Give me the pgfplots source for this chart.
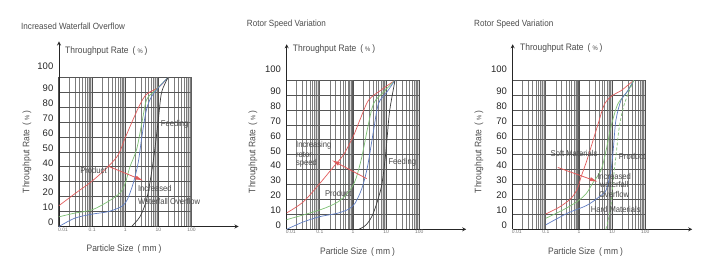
\documentclass[border=0pt]{standalone}
\usepackage{fontspec}
\setmainfont{Liberation Sans}[FakeStretch=0.9]
\newfontfamily\ticfont{Liberation Sans}
\usepackage{pgfplots}
\pgfplotsset{compat=1.18}
\usetikzlibrary{arrows.meta}
\definecolor{cred}{RGB}{225,90,90}
\definecolor{cgreen}{RGB}{125,192,115}
\definecolor{cblue}{RGB}{95,125,195}
\definecolor{cblack}{RGB}{60,60,60}
\definecolor{txt}{RGB}{75,75,75}
\definecolor{gridmaj}{RGB}{80,80,80}
\definecolor{gridmin}{RGB}{125,125,125}
\definecolor{gridy}{RGB}{85,85,85}
\newcommand{\lab}{\fontsize{9bp}{10bp}\selectfont}
\newcommand{\labb}{\fontsize{9.4bp}{10bp}\selectfont}
\newcommand{\ann}{\fontsize{8.5bp}{9.3bp}\selectfont}
\newcommand{\tlf}{\ticfont\fontsize{9.5bp}{11bp}\selectfont}
\newcommand{\xlf}{\ticfont\fontsize{5bp}{6bp}\selectfont}
\newcommand{\thr}{Throughput Rate\hspace{4bp}(\hspace{2bp}{\fontsize{6.5bp}{7bp}\selectfont\%}\hspace{2bp})}
\newcommand{\psz}{Particle Size\hspace{4bp}(\hspace{2bp}mm\hspace{2bp})}
\tikzset{myband/.style={draw=none, fill=gray, fill opacity=0.3}}
\pgfplotsset{
  x axis line style={-{Triangle[length=12bp,width=5bp]}, shorten >=-47bp, line width=0.8bp, black!85},
  y axis line style={-{Triangle[length=11bp,width=5bp]}, shorten >=-36bp, line width=0.8bp, black!85},
  major x grid style={line width=1.1bp, gridmaj},
  minor x grid style={line width=0.5bp, gridmin},
  major y grid style={line width=0.8bp, gridy},
  xticklabel style={font=\xlf, text=black!55, anchor=north, inner sep=1bp},
  yticklabel style={font=\tlf, text=black!85, anchor=east, inner sep=0pt, xshift=-5.5bp, yshift=4bp},
}
\newcommand{\bands}{%
 \addplot[myband, forget plot] coordinates {(0.072,100) (0.1,100)} \closedcycle;
 \addplot[myband, forget plot] coordinates {(0.72,100) (1,100)} \closedcycle;
 \addplot[myband, forget plot] coordinates {(7.2,100) (10,100)} \closedcycle;
 \addplot[myband, forget plot] coordinates {(72,100) (100,100)} \closedcycle;
 \node[anchor=east, inner sep=0pt, font=\tlf, text=black!85, xshift=-5.5bp, yshift=11.5bp] at (rel axis cs:0,1) {100};
}
\begin{document}
\begin{tikzpicture}
\useasboundingbox (0bp,0bp) rectangle (721bp,278bp);
% ---------- Panel 1
\begin{axis}[at={(59bp,51.5bp)}, anchor=south west,
  xmode=log, xmin=0.01, xmax=100, ymin=0, ymax=100,
  scale only axis, width=132.5bp, height=149bp, clip=false,
  axis lines=left,
  xtick={0.01,0.1,1,10,100}, xticklabels={\hspace*{8bp}0.01,0.1,1,10,100},
  minor xtick={0.02,0.03,0.04,0.05,0.06,0.07,0.08,0.09,0.2,0.3,0.4,0.5,0.6,0.7,0.8,0.9,2,3,4,5,6,7,8,9,20,30,40,50,60,70,80,90},
  ytick={0,10,20,30,40,50,60,70,80,90,100}, yticklabels={0,10,20,30,40,50,60,70,80,90,},
  major tick length=0pt, minor tick length=0pt,
  xmajorgrids, xminorgrids, ymajorgrids]
\bands
\addplot[cred, line width=0.7bp, smooth, tension=0.5] coordinates {(0.01,14) (0.03,22) (0.1,30.5) (0.31,40.4) (0.62,48.3) (1,59.6) (1.74,72) (2.8,82) (4.4,88.8) (10,93.3) (19.6,100)};
\addplot[cgreen, line width=0.7bp, smooth, tension=0.5] coordinates {(0.01,6.5) (0.03,9) (0.1,11.2) (0.31,16.9) (0.69,22.5) (1,29) (1.38,40) (2.2,51.7) (3.2,70) (4.4,85) (7.8,91) (19.6,100)};
\addplot[cblue, line width=0.7bp, smooth, tension=0.5] coordinates {(0.01,0) (0.03,5.6) (0.1,8.3) (0.31,10) (0.78,13.5) (1.15,18) (1.74,29) (2.45,42.7) (3.2,60.7) (4.4,78.7) (6.9,88.8) (19.6,100)};
\addplot[cblack, line width=0.7bp, smooth, tension=0.5] coordinates {(1.55,0) (2.8,6.7) (4.4,18) (6.2,36) (7.8,51.7) (10,72) (12.5,90) (19.6,100)};
\addplot[cred, line width=0.8bp, -{Latex[length=8bp,width=4bp]}] coordinates {(0.31,40.4) (3.5,30.8)};
\node[text=txt, font=\ann, inner sep=0pt] at (axis cs:31,68.5) {Feeding};
\node[text=txt, font=\ann, inner sep=0pt] at (axis cs:0.11,37.5) {Product};
\node[text=txt, font=\ann, inner sep=0pt, anchor=west] at (axis cs:2.4,25.2) {Increased};
\node[text=txt, font=\ann, inner sep=0pt, anchor=west] at (axis cs:2.4,16.6) {Waterfall Overflow};
\end{axis}
\node[anchor=west, text=txt, font=\lab, inner sep=0pt] at (21bp,252bp) {Increased Waterfall Overflow};
\node[anchor=west, text=txt, font=\labb, inner sep=0pt] at (65bp,227bp) {\thr};
\node[rotate=90, text=txt, font=\labb, inner sep=0pt] at (27bp,126bp) {\thr};
\node[text=txt, font=\labb, inner sep=0pt] at (124bp,29bp) {\psz};
% ---------- Panel 2
\begin{axis}[at={(286.7bp,48.7bp)}, anchor=south west,
  xmode=log, xmin=0.01, xmax=100, ymin=0, ymax=100,
  scale only axis, width=132.5bp, height=149bp, clip=false,
  axis lines=left,
  xtick={0.01,0.1,1,10,100}, xticklabels={\hspace*{8bp}0.01,0.1,1,10,100},
  minor xtick={0.02,0.03,0.04,0.05,0.06,0.07,0.08,0.09,0.2,0.3,0.4,0.5,0.6,0.7,0.8,0.9,2,3,4,5,6,7,8,9,20,30,40,50,60,70,80,90},
  ytick={0,10,20,30,40,50,60,70,80,90,100}, yticklabels={0,10,20,30,40,50,60,70,80,90,},
  major tick length=0pt, minor tick length=0pt,
  xmajorgrids, xminorgrids, ymajorgrids]
\bands
\addplot[cred, line width=0.7bp, smooth, tension=0.5] coordinates {(0.01,11) (0.032,18.5) (0.1,30.8) (0.26,42) (0.51,49.8) (1,62) (1.66,74) (2.95,86.6) (6.6,93) (18.6,100)};
\addplot[cgreen, line width=0.7bp, smooth, tension=0.5] coordinates {(0.01,6.5) (0.1,13) (0.36,18.5) (0.81,26.3) (1.23,34) (1.86,48.7) (2.75,67.6) (4.2,84.4) (8.3,92) (18.6,100)};
\addplot[cblue, line width=0.7bp, smooth, tension=0.5] coordinates {(0.01,0) (0.032,5) (0.1,8.5) (0.33,10.7) (0.72,13.4) (1.15,17.4) (1.86,27.5) (2.75,42) (4.2,66.5) (5.9,84.4) (10.5,92) (18.6,100)};
\addplot[cblack, line width=0.7bp, smooth, tension=0.5] coordinates {(1.5,0) (2.5,3) (4.1,10.7) (7.2,28.5) (9.5,48.6) (11,64) (12.9,80) (18.6,100)};
\addplot[cred, line width=0.8bp, -{Latex[length=8bp,width=4bp]}] coordinates {(2.6,34) (0.23,46.4)};
\node[text=txt, font=\ann, inner sep=0pt, anchor=west] at (axis cs:0.019,56.5) {Increasing};
\node[text=txt, font=\ann, inner sep=0pt, anchor=west] at (axis cs:0.019,50.2) {rotor};
\node[text=txt, font=\ann, inner sep=0pt, anchor=west] at (axis cs:0.019,44.2) {speed};
\node[text=txt, font=\ann, inner sep=0pt] at (axis cs:31,45.3) {Feeding};
\node[text=txt, font=\ann, inner sep=0pt] at (axis cs:0.36,24.1) {Product};
\end{axis}
\node[anchor=west, text=txt, font=\lab, inner sep=0pt] at (246.7bp,254bp) {Rotor Speed Variation};
\node[anchor=west, text=txt, font=\labb, inner sep=0pt] at (292.7bp,229bp) {\thr};
\node[rotate=90, text=txt, font=\labb, inner sep=0pt] at (253bp,126bp) {\thr};
\node[text=txt, font=\labb, inner sep=0pt] at (357.5bp,26.3bp) {\psz};
% ---------- Panel 3
\begin{axis}[at={(512.7bp,48.7bp)}, anchor=south west,
  xmode=log, xmin=0.01, xmax=100, ymin=0, ymax=100,
  scale only axis, width=132.5bp, height=149bp, clip=false,
  axis lines=left,
  xtick={0.01,0.1,1,10,100}, xticklabels={\hspace*{8bp}0.01,0.1,1,10,100},
  minor xtick={0.02,0.03,0.04,0.05,0.06,0.07,0.08,0.09,0.2,0.3,0.4,0.5,0.6,0.7,0.8,0.9,2,3,4,5,6,7,8,9,20,30,40,50,60,70,80,90},
  ytick={0,10,20,30,40,50,60,70,80,90,100}, yticklabels={0,10,20,30,40,50,60,70,80,90,},
  major tick length=0pt, minor tick length=0pt,
  xmajorgrids, xminorgrids, ymajorgrids]
\bands
\addplot[cred, line width=0.7bp, smooth, tension=0.5] coordinates {(0.1,10.3) (0.26,15) (0.58,20.8) (0.91,27.5) (1.15,35) (1.66,45) (2.3,55) (3.7,70) (5.9,84) (10.5,90) (18.6,93) (45,100)};
\addplot[cgreen, line width=0.7bp, smooth, tension=0.5] coordinates {(0.1,7.4) (0.33,13) (0.87,18.5) (1.66,24) (2.6,31) (4.7,40) (6.6,53) (9.3,69) (14.8,84) (26,91) (45,100)};
\addplot[cblue, line width=0.7bp, smooth, tension=0.5] coordinates {(0.1,3) (0.44,10.7) (1.7,16) (4.2,22) (6.6,26.3) (9.3,40) (11,55) (13,73) (18.6,86.6) (30,93) (45,100)};
\addplot[cgreen, line width=0.7bp, densely dashed, smooth, tension=0.5] coordinates {(6.5,0) (8.9,13) (10.5,30) (13.2,50) (16.6,69) (23.4,84) (45,100)};
\addplot[cred, line width=0.8bp, -{Latex[length=8bp,width=4bp]}] coordinates {(0.23,41.5) (3.7,31.9)};
\node[text=txt, font=\ann, inner sep=0pt] at (axis cs:0.71,51) {Soft Materials};
\node[text=txt, font=\ann, inner sep=0pt] at (axis cs:40,48.8) {Product};
\node[text=txt, font=\ann, inner sep=0pt] at (axis cs:11.5,35.5) {Increased};
\node[text=txt, font=\ann, inner sep=0pt] at (axis cs:11.5,29.8) {waterfall};
\node[text=txt, font=\ann, inner sep=0pt] at (axis cs:11.5,23.3) {Overflow};
\node[text=txt, font=\ann, inner sep=0pt] at (axis cs:12.9,13.3) {Hard Materials};
\end{axis}
\node[anchor=west, text=txt, font=\lab, inner sep=0pt] at (474bp,254bp) {Rotor Speed Variation};
\node[anchor=west, text=txt, font=\labb, inner sep=0pt] at (520bp,230bp) {\thr};
\node[rotate=90, text=txt, font=\labb, inner sep=0pt] at (479bp,126bp) {\thr};
\node[text=txt, font=\labb, inner sep=0pt] at (585.5bp,26.3bp) {\psz};
\end{tikzpicture}
\end{document}
